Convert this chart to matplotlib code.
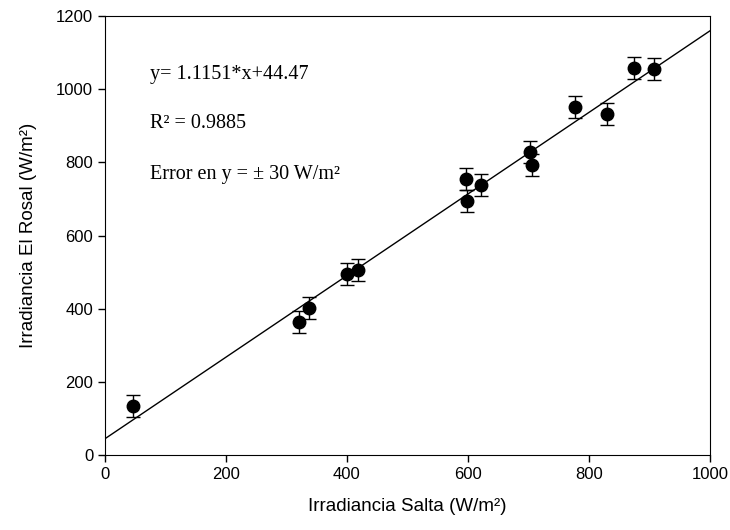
import matplotlib
matplotlib.use('Agg')
import matplotlib.pyplot as plt
import numpy as np

# Data
salta = [47, 321, 337, 400, 418, 597, 598, 622, 702, 706, 777, 830, 874, 908]
rosal = [135, 364, 403, 494, 505, 755, 695, 738, 828, 793, 951, 933, 1058, 1054]
err_y = 30
slope = 1.1151
intercept = 44.47

fig = plt.figure(figsize=(7.3, 5.3), dpi=100)
ax = fig.add_axes([0.1438, 0.1415, 0.8288, 0.8283])

ax.errorbar(salta, rosal, yerr=err_y, fmt='o', color='black', markersize=9,
            ecolor='black', elinewidth=1, capsize=5, capthick=1)

xfit = np.array([0, 1000])
ax.plot(xfit, slope * xfit + intercept, color='black', linewidth=1)

ax.set_xlim(0, 1000)
ax.set_ylim(0, 1200)
ax.set_xticks(np.arange(0, 1001, 200))
ax.set_yticks(np.arange(0, 1201, 200))
ax.tick_params(direction='out', length=5, width=1, labelsize=12, top=False, right=False)
for lab in ax.get_xticklabels() + ax.get_yticklabels():
    lab.set_fontfamily('Liberation Sans')

ax.set_xlabel('Irradiancia Salta (W/m²)', fontsize=13.5, family='Liberation Sans', labelpad=12)
ax.set_ylabel('Irradiancia El Rosal (W/m²)', fontsize=13.5, family='Liberation Sans', labelpad=14)

tkw = dict(fontsize=14.5, family='Liberation Serif', va='center', ha='left')
ax.text(75, 1040, 'y= 1.1151*x+44.47', **tkw)
ax.text(75, 907, 'R² = 0.9885', **tkw)
ax.text(75, 768, 'Error en y = ± 30 W/m²', **tkw)

fig.savefig('out.png', dpi=100)
